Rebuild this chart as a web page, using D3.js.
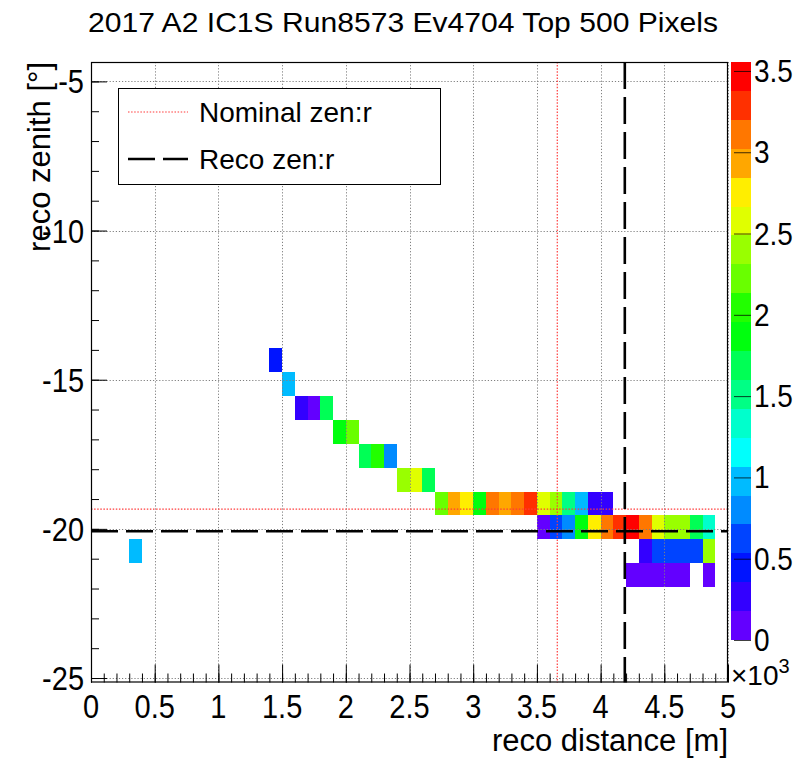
<!DOCTYPE html>
<html>
<head>
<meta charset="utf-8">
<script src="https://cdn.jsdelivr.net/npm/d3@7/dist/d3.min.js"></script>
<style>
  html, body { margin: 0; padding: 0; background: #fff; }
  svg { display: block; font-family: "Liberation Sans", Arial, Helvetica, sans-serif; }
</style>
</head>
<body>
<svg id="chart" width="798" height="760"></svg>
<script>
// ---------------- data ----------------
const title = "2017 A2 IC1S Run8573 Ev4704 Top 500 Pixels";
const xTitle = "reco distance [m]";
const yTitle = "reco zenith [°]";
const xRange = [0, 5];          // histogram x axis (m), 50 bins of 0.1
const yRange = [-25.15, -4.35]; // histogram y axis (deg), 26 bins of 0.8
const xBinWidth = 0.1;
const yBinWidth = 0.8;
const xTicks = [0, 0.5, 1, 1.5, 2, 2.5, 3, 3.5, 4, 4.5, 5];
const yTicks = [-5, -10, -15, -20, -25];
const zTicks = [0, 0.5, 1, 1.5, 2, 2.5, 3, 3.5];   // ×10^3
const zMax = 3555;
const nContours = 20;

// bin centers (x in m, y in deg) and contents
const cellX = [
  1.45,
  1.55,
  1.65, 1.75, 1.85,
  1.95, 2.05,
  2.15, 2.25, 2.35,
  2.45, 2.55, 2.65,
  2.75, 2.85, 2.95, 3.05, 3.15, 3.25, 3.35, 3.45, 3.55, 3.65, 3.75, 3.85, 3.95, 4.05,
  3.55, 3.65, 3.75, 3.85, 3.95, 4.05, 4.15, 4.25, 4.35, 4.45, 4.55, 4.65, 4.75, 4.85,
  0.35, 4.35, 4.45, 4.55, 4.65, 4.75, 4.85,
  4.25, 4.35, 4.45, 4.55, 4.65, 4.85
];
const cellY = [
  -14.35,
  -15.15,
  -15.95, -15.95, -15.95,
  -16.75, -16.75,
  -17.55, -17.55, -17.55,
  -18.35, -18.35, -18.35,
  -19.15, -19.15, -19.15, -19.15, -19.15, -19.15, -19.15, -19.15, -19.15, -19.15, -19.15, -19.15, -19.15, -19.15,
  -19.95, -19.95, -19.95, -19.95, -19.95, -19.95, -19.95, -19.95, -19.95, -19.95, -19.95, -19.95, -19.95, -19.95,
  -20.75, -20.75, -20.75, -20.75, -20.75, -20.75, -20.75,
  -21.55, -21.55, -21.55, -21.55, -21.55, -21.55
];
const cellZ = [
  440,
  980,
  270, 90, 1690,
  1870, 2220,
  1690, 2040, 800,
  2400, 2580, 1690,
  2220, 2930, 2760, 1870, 3110, 2930, 3110, 3290, 2580, 2400, 1510, 980, 270, 270,
  90, 620, 800, 1870, 2760, 3110, 3290, 3555, 3110, 2580, 2400, 2400, 1690, 1330,
  980, 270, 620, 620, 620, 620, 2400,
  90, 90, 90, 90, 90, 90
];

// reference lines
const nominal = { zen: -19.34, r: 3.66 };
const reco = { zen: -20.08, r: 4.19 };
const legendLabels = ["Nominal zen:r", "Reco zen:r"];

// ---------------- drawing ----------------
const svg = d3.select("#chart");
const frame = { left: 91, right: 728, top: 62, bottom: 682.5 };

const x = d3.scaleLinear().domain(xRange).range([frame.left, frame.right]);
const y = d3.scaleLinear().domain(yRange).range([frame.bottom, frame.top]);
const zBar = { left: 731, right: 751, top: 62, bottom: 640 };
const z = d3.scaleLinear().domain([0, zMax / 1000]).range([zBar.bottom, zBar.top]);

// ROOT "pretty" palette (50 colours, hue 280 -> 0) with 20 contour levels
const palette = d3.range(50).map(i => d3.hsl(280 - (i + 1) * (280 / 50), 1, 0.5).formatHex());
function levelColor(level) {
  return palette[Math.floor((level + 0.99) * 50 / nContours)];
}
function zColor(v) {
  let lvl = Math.floor(v / zMax * nContours);
  lvl = Math.max(0, Math.min(nContours - 1, lvl));
  return levelColor(lvl);
}

// frame background
svg.append("rect").attr("x", frame.left).attr("y", frame.top)
  .attr("width", frame.right - frame.left).attr("height", frame.bottom - frame.top)
  .attr("fill", "#fff");

// cells
const cells = cellX.map((cx, i) => ({ x: cx, y: cellY[i], z: cellZ[i] }));
svg.append("g").selectAll("rect").data(cells).join("rect")
  .attr("x", d => x(d.x - xBinWidth / 2))
  .attr("y", d => y(d.y + yBinWidth / 2))
  .attr("width", d => x(d.x + xBinWidth / 2) - x(d.x - xBinWidth / 2))
  .attr("height", d => y(d.y - yBinWidth / 2) - y(d.y + yBinWidth / 2))
  .attr("fill", d => zColor(d.z))
  .attr("shape-rendering", "crispEdges");

// grid (dotted)
const grid = svg.append("g").attr("stroke", "#808080").attr("stroke-width", 1)
  .attr("stroke-dasharray", "1.2,1.9").attr("fill", "none");
xTicks.forEach(t => {
  grid.append("line").attr("x1", Math.round(x(t)) + 0.5).attr("x2", Math.round(x(t)) + 0.5)
    .attr("y1", frame.top).attr("y2", frame.bottom);
});
yTicks.forEach(t => {
  grid.append("line").attr("y1", Math.round(y(t)) + 0.5).attr("y2", Math.round(y(t)) + 0.5)
    .attr("x1", frame.left).attr("x2", frame.right);
});

// reference lines
const refs = svg.append("g").attr("fill", "none");
refs.append("line").attr("x1", frame.left).attr("x2", frame.right)
  .attr("y1", y(nominal.zen)).attr("y2", y(nominal.zen))
  .attr("stroke", "#ff3b3b").attr("stroke-width", 1.2).attr("stroke-dasharray", "1.5,1.6");
refs.append("line").attr("y1", frame.top).attr("y2", frame.bottom)
  .attr("x1", x(nominal.r)).attr("x2", x(nominal.r))
  .attr("stroke", "#ff3b3b").attr("stroke-width", 1.2).attr("stroke-dasharray", "1.5,1.6");
refs.append("line").attr("x1", frame.left).attr("x2", frame.right)
  .attr("y1", y(reco.zen)).attr("y2", y(reco.zen))
  .attr("stroke", "#000").attr("stroke-width", 2.6).attr("stroke-dasharray", "27,8");
refs.append("line").attr("y1", frame.top).attr("y2", frame.bottom)
  .attr("x1", x(reco.r)).attr("x2", x(reco.r))
  .attr("stroke", "#000").attr("stroke-width", 2.6).attr("stroke-dasharray", "27,8");

// axes
const xAxisMajor = d3.axisTop(x).tickValues(xTicks).tickSize(18).tickFormat("");
const xAxisMinor = d3.axisTop(x).tickValues(d3.range(0, 50).map(i => i / 10)).tickSize(9).tickFormat("");
const yAxisMajor = d3.axisRight(y).tickValues(yTicks).tickSize(16).tickFormat("");
const yAxisMinor = d3.axisRight(y).tickValues(d3.range(-25, -4)).tickSize(8).tickFormat("");
[xAxisMajor, xAxisMinor].forEach(a => {
  const g = svg.append("g").attr("transform", `translate(0,${frame.bottom})`).call(a);
  g.select(".domain").remove();
  g.selectAll("line").attr("stroke", "#000");
});
[yAxisMajor, yAxisMinor].forEach(a => {
  const g = svg.append("g").attr("transform", `translate(${frame.left},0)`).call(a);
  g.select(".domain").remove();
  g.selectAll("line").attr("stroke", "#000");
});

// frame border
svg.append("rect").attr("x", frame.left + 0.5).attr("y", frame.top + 0.5)
  .attr("width", frame.right - frame.left - 1).attr("height", frame.bottom - frame.top - 1)
  .attr("fill", "none").attr("stroke", "#000").attr("stroke-width", 1.2);

// tick labels (ROOT labels are slightly taller than plain Helvetica)
const fmt = d => String(d);
const stretch = 1.14;
svg.append("g").selectAll("text").data(xTicks).join("text")
  .attr("transform", d => `translate(${x(d)},718) scale(1,${stretch})`)
  .attr("text-anchor", "middle").attr("font-size", 29).attr("fill", "#000")
  .text(fmt);
svg.append("g").selectAll("text").data(yTicks).join("text")
  .attr("transform", d => `translate(84,${y(d) + 12}) scale(1,${stretch})`)
  .attr("text-anchor", "end").attr("font-size", 29).attr("fill", "#000")
  .text(fmt);

// axis titles
svg.append("text").attr("x", frame.right).attr("y", 751)
  .attr("text-anchor", "end").attr("font-size", 31).text(xTitle);
svg.append("text").attr("transform", `translate(50,${frame.top}) rotate(-90)`)
  .attr("text-anchor", "end").attr("font-size", 31).text(yTitle);

// title
svg.append("text").attr("x", 403).attr("y", 32)
  .attr("text-anchor", "middle").attr("font-size", 28)
  .attr("textLength", 630).attr("lengthAdjust", "spacingAndGlyphs").text(title);

// colour bar
const levels = d3.range(nContours);
const dz = zMax / nContours / 1000;
svg.append("g").selectAll("rect").data(levels).join("rect")
  .attr("x", zBar.left).attr("width", zBar.right - zBar.left)
  .attr("y", d => z((d + 1) * dz)).attr("height", d => z(d * dz) - z((d + 1) * dz))
  .attr("fill", d => levelColor(d)).attr("shape-rendering", "crispEdges");
const zAxis = d3.axisLeft(z).tickValues(zTicks).tickSize(17).tickFormat("");
const zg = svg.append("g").attr("transform", `translate(${zBar.right},0)`).call(zAxis);
zg.select(".domain").remove();
zg.selectAll("line").attr("stroke", "#000").attr("stroke-opacity", 0.75);
svg.append("g").selectAll("text").data(zTicks).join("text")
  .attr("transform", d => `translate(754,${z(d) + 11}) scale(1,${stretch})`)
  .attr("font-size", 28).text(fmt);
const ex = svg.append("text").attr("x", 731).attr("y", 685).attr("font-size", 28);
ex.append("tspan").text("×10");
ex.append("tspan").attr("dy", -12).attr("font-size", 20).text("3");

// legend
const lg = svg.append("g");
lg.append("rect").attr("x", 118.5).attr("y", 88.5).attr("width", 322).attr("height", 96)
  .attr("fill", "#fff").attr("stroke", "#000").attr("stroke-width", 1);
lg.append("line").attr("x1", 128).attr("x2", 188).attr("y1", 112).attr("y2", 112)
  .attr("stroke", "#ff3b3b").attr("stroke-width", 1.2).attr("stroke-dasharray", "1.5,1.6");
lg.append("line").attr("x1", 128).attr("x2", 188).attr("y1", 159).attr("y2", 159)
  .attr("stroke", "#000").attr("stroke-width", 2.6).attr("stroke-dasharray", "27,8");
lg.selectAll("text.lbl").data(legendLabels).join("text").attr("class", "lbl")
  .attr("x", 199).attr("y", (d, i) => [122, 169][i])
  .attr("font-size", 28).text(d => d);
</script>
</body>
</html>
